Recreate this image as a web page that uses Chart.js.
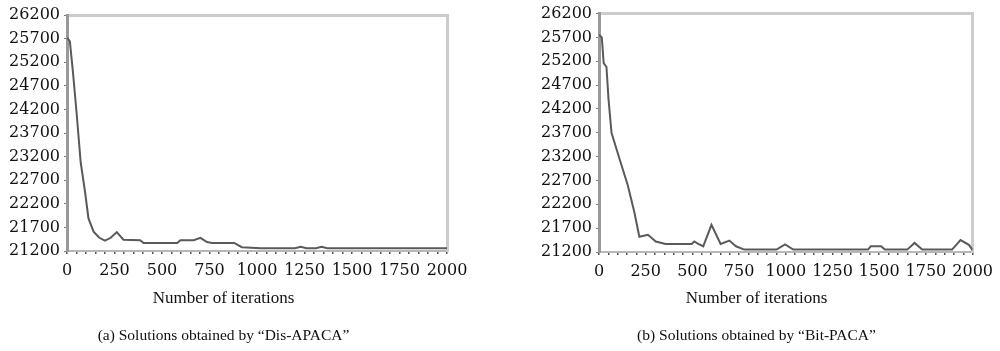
<!DOCTYPE html>
<html><head><meta charset="utf-8">
<script src="https://cdn.jsdelivr.net/npm/chart.js@4.4.0/dist/chart.umd.min.js"></script>
<style>
html,body{margin:0;padding:0;background:#fff;overflow:hidden;width:1000px;height:351px;}
.box{position:absolute;top:0;height:351px;}
canvas{display:block;}
</style></head><body>
<div class="box" style="left:0;width:495px"><canvas id="c1" width="495" height="351"></canvas></div>
<div class="box" style="left:534px;width:466px"><canvas id="c2" width="466" height="351"></canvas></div>
<script>
// ---- data ----
const yTickValues = [21200, 21700, 22200, 22700, 23200, 23700, 24200, 24700, 25200, 25700, 26200];
const xTickLabels = [0, 250, 500, 750, 1000, 1250, 1500, 1750, 2000];
const axisTitle = 'Number of iterations';
const captions = ['(a) Solutions obtained by \u201cDis-APACA\u201d', '(b) Solutions obtained by \u201cBit-PACA\u201d'];

const itersA = [0, 15, 30, 50, 72, 95, 113, 140, 170, 200, 230, 262, 297, 385, 403, 580, 597, 667, 702, 737, 763, 880, 920, 1020, 1200, 1230, 1260, 1310, 1340, 1370, 2000];
const valuesA = [25720, 25640, 25050, 24150, 23080, 22450, 21890, 21610, 21480, 21420, 21480, 21600, 21440, 21430, 21370, 21370, 21430, 21430, 21480, 21390, 21370, 21370, 21280, 21260, 21260, 21290, 21260, 21260, 21290, 21260, 21260];

const itersB = [0, 15, 25, 40, 51, 67, 110, 154, 189, 216, 240, 262, 304, 356, 496, 510, 531, 558, 602, 651, 698, 733, 777, 950, 996, 1040, 1440, 1455, 1510, 1530, 1650, 1689, 1730, 1890, 1935, 1980, 2000];
const valuesB = [25760, 25700, 25160, 25080, 24400, 23700, 23150, 22600, 22040, 21520, 21540, 21560, 21420, 21370, 21370, 21420, 21370, 21320, 21770, 21370, 21440, 21320, 21250, 21250, 21360, 21250, 21250, 21320, 21320, 21250, 21250, 21390, 21250, 21250, 21450, 21350, 21240];

// ---- chart builder ----
const tickFont = {family: '"DejaVu Serif", serif', size: 16};
const axisTitleFont = {family: '"Liberation Serif", "Times New Roman", serif', size: 17};
const captionFont = {family: '"Liberation Serif", "Times New Roman", serif', size: 15.5, weight: 'normal'};

function makeChart(id, xs, ys, caption, dims) {
  const pts = xs.map((x, i) => ({x: x, y: ys[i]}));
  return new Chart(document.getElementById(id), {
    type: 'line',
    data: {datasets: [{data: pts, borderColor: '#5a5a5a', borderWidth: 2, pointRadius: 0, tension: 0, fill: false}]},
    options: {
      responsive: false,
      animation: false,
      layout: {padding: {top: dims.padTop, right: dims.padRight, left: 0, bottom: 0}},
      plugins: {
        legend: {display: false},
        tooltip: {enabled: false},
        subtitle: {display: true, position: 'bottom', text: axisTitle, color: '#111', font: axisTitleFont, padding: {top: 6, bottom: 10}},
        title: {display: true, position: 'bottom', text: caption, color: '#111', font: captionFont, padding: {top: 8, bottom: 6}}
      },
      scales: {
        x: {
          type: 'linear', position: 'bottom', min: 0, max: 2000,
          afterFit: s => { s.height = dims.xH; },
          border: {display: true, color: '#b8b8b8', width: 2},
          grid: {display: true, drawOnChartArea: false, drawTicks: true, tickLength: 3, color: '#555555', lineWidth: 1.5},
          ticks: {stepSize: 50, autoSkip: false, maxTicksLimit: 100, maxRotation: 0, padding: 7, color: '#111', font: tickFont,
                  callback: v => xTickLabels.includes(v) ? String(v) : ''}
        },
        x2: {
          type: 'linear', position: 'top', min: 0, max: 2000,
          border: {display: true, color: '#cccccc', width: 3},
          grid: {display: false, drawTicks: false},
          ticks: {display: false}
        },
        y: {
          type: 'linear', position: 'left', min: 21200, max: 26200,
          afterFit: s => { s.width = dims.yW; },
          border: {display: true, color: '#999999', width: 3},
          grid: {display: true, drawOnChartArea: false, drawTicks: true, tickLength: 3, color: '#777777'},
          ticks: {stepSize: 500, padding: 4, color: '#111', font: tickFont,
                  callback: v => yTickValues.includes(v) ? String(v) : ''}
        },
        y2: {
          type: 'linear', position: 'right', min: 21200, max: 26200,
          border: {display: true, color: '#cccccc', width: 3},
          grid: {display: false, drawTicks: false},
          ticks: {display: false}
        }
      }
    }
  });
}

makeChart('c1', itersA, valuesA, captions[0], {padTop: 15, padRight: 48, xH: 31, yW: 67});
makeChart('c2', itersB, valuesB, captions[1], {padTop: 13, padRight: 21, xH: 30, yW: 65});
</script>
</body></html>
